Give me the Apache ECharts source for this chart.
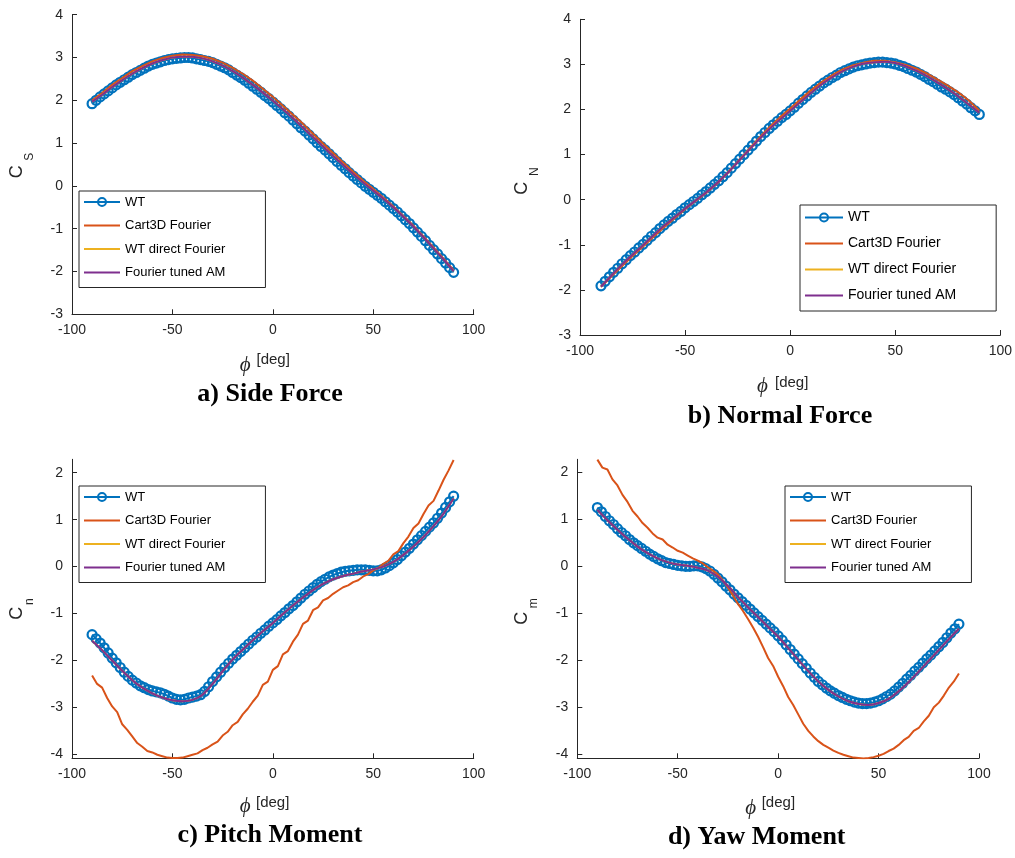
<!DOCTYPE html>
<html>
<head>
<meta charset="utf-8">
<script src="https://cdn.jsdelivr.net/npm/echarts@6.0.0/dist/echarts.min.js"></script>
<style>
  html, body { margin: 0; padding: 0; background: #ffffff; }
  #chart { width: 1015px; height: 858px; }
</style>
</head>
<body>
<div id="chart"></div>
<script>
// Roll angle for the wind-tunnel samples (every 2 deg), the Fourier curves (every 5 deg)
// and the finer Cart3D moment curves (every 2.5 deg)
const PHI_WT = [-90,-88,-86,-84,-82,-80,-78,-76,-74,-72,-70,-68,-66,-64,-62,-60,-58,-56,-54,-52,
  -50,-48,-46,-44,-42,-40,-38,-36,-34,-32,-30,-28,-26,-24,-22,-20,-18,-16,-14,-12,-10,-8,-6,-4,-2,
  0,2,4,6,8,10,12,14,16,18,20,22,24,26,28,30,32,34,36,38,40,42,44,46,48,50,52,54,56,58,60,62,64,66,
  68,70,72,74,76,78,80,82,84,86,88,90];
const PHI_FIT = [-90,-85,-80,-75,-70,-65,-60,-55,-50,-45,-40,-35,-30,-25,-20,-15,-10,-5,0,
  5,10,15,20,25,30,35,40,45,50,55,60,65,70,75,80,85,90];
const PHI_FINE = [-90,-87.5,-85,-82.5,-80,-77.5,-75,-72.5,-70,-67.5,-65,-62.5,-60,-57.5,-55,-52.5,-50,-47.5,
  -45,-42.5,-40,-37.5,-35,-32.5,-30,-27.5,-25,-22.5,-20,-17.5,-15,-12.5,-10,-7.5,-5,-2.5,0,
  2.5,5,7.5,10,12.5,15,17.5,20,22.5,25,27.5,30,32.5,35,37.5,40,42.5,45,47.5,50,52.5,55,57.5,60,
  62.5,65,67.5,70,72.5,75,77.5,80,82.5,85,87.5,90];

const X_TICKS = [-100, -50, 0, 50, 100];
const Y_TICKS_FORCE = [-3, -2, -1, 0, 1, 2, 3, 4];
const Y_TICKS_MOMENT = [-4, -3, -2, -1, 0, 1, 2];

const SERIES_NAMES = ['WT', 'Cart3D Fourier', 'WT direct Fourier', 'Fourier tuned AM'];
const PANEL_TITLES = ['a) Side Force', 'b) Normal Force', 'c) Pitch Moment', 'd) Yaw Moment'];
const Y_SUBSCRIPTS = ['S', 'N', 'n', 'm'];

// a) Side force coefficient
const WT_SIDE = [1.92,2.00,2.08,2.15,2.22,2.29,2.36,2.42,2.48,2.54,2.60,2.65,2.70,2.75,2.80,2.84,2.87,2.90,2.93,2.95,
  2.97,2.98,2.99,3.00,3.00,2.99,2.97,2.95,2.93,2.91,2.88,2.84,2.80,2.76,2.71,2.65,2.59,2.53,2.47,2.40,2.33,2.26,2.19,2.11,2.04,
  1.96,1.88,1.80,1.71,1.63,1.54,1.45,1.36,1.28,1.19,1.10,1.01,0.92,0.84,0.75,0.66,0.57,0.48,0.40,0.31,0.23,0.15,0.07,-0.01,-0.08,
  -0.15,-0.22,-0.29,-0.37,-0.45,-0.53,-0.61,-0.70,-0.79,-0.88,-0.98,-1.08,-1.18,-1.28,-1.39,-1.49,-1.59,-1.70,-1.80,-1.91,-2.02];
const CART_SIDE = [2.00,2.17,2.36,2.52,2.68,2.80,2.91,2.99,3.04,3.07,3.06,3.03,2.97,2.88,2.76,2.62,2.46,2.27,2.08,
  1.87,1.66,1.45,1.22,0.99,0.77,0.55,0.33,0.12,-0.07,-0.27,-0.48,-0.70,-0.93,-1.18,-1.44,-1.70,-1.97];
const DIRECT_SIDE = [1.97,2.13,2.31,2.47,2.62,2.75,2.86,2.94,3.00,3.02,3.02,2.98,2.91,2.81,2.68,2.53,2.36,2.18,1.99,
  1.79,1.58,1.36,1.14,0.92,0.70,0.49,0.28,0.08,-0.11,-0.30,-0.50,-0.72,-0.95,-1.20,-1.46,-1.72,-1.99];
const AM_SIDE = [1.97,2.13,2.31,2.47,2.62,2.75,2.86,2.94,3.00,3.02,3.02,2.98,2.91,2.81,2.68,2.53,2.36,2.18,1.99,
  1.79,1.58,1.36,1.14,0.92,0.70,0.49,0.28,0.08,-0.11,-0.30,-0.50,-0.72,-0.95,-1.20,-1.46,-1.72,-1.99];

// b) Normal force coefficient
const WT_NORMAL = [-1.91,-1.81,-1.71,-1.61,-1.52,-1.42,-1.33,-1.24,-1.16,-1.07,-0.99,-0.90,-0.81,-0.73,-0.64,-0.56,-0.48,-0.41,-0.33,-0.26,
  -0.18,-0.11,-0.04,0.03,0.11,0.18,0.26,0.34,0.42,0.51,0.60,0.70,0.80,0.90,1.00,1.10,1.20,1.30,1.40,1.49,1.58,1.66,1.74,1.82,1.89,
  1.97,2.05,2.14,2.22,2.30,2.38,2.45,2.52,2.59,2.65,2.71,2.76,2.82,2.86,2.90,2.94,2.97,2.99,3.01,3.03,3.04,3.05,3.05,3.04,3.03,
  3.01,2.98,2.95,2.91,2.87,2.83,2.78,2.73,2.67,2.62,2.56,2.50,2.45,2.39,2.33,2.26,2.19,2.12,2.04,1.97,1.89];
const CART_NORMAL = [-1.93,-1.70,-1.47,-1.25,-1.04,-0.82,-0.61,-0.41,-0.21,-0.03,0.15,0.35,0.58,0.84,1.10,1.36,1.60,1.82,2.02,
  2.23,2.43,2.61,2.76,2.89,2.98,3.04,3.08,3.08,3.05,2.99,2.91,2.80,2.67,2.53,2.38,2.20,1.98];
const DIRECT_NORMAL = [-1.93,-1.68,-1.44,-1.22,-1.01,-0.79,-0.58,-0.39,-0.20,-0.02,0.16,0.36,0.58,0.83,1.08,1.33,1.56,1.77,1.97,
  2.17,2.37,2.56,2.72,2.85,2.95,3.02,3.05,3.06,3.03,2.96,2.86,2.74,2.60,2.45,2.29,2.11,1.93];
const AM_NORMAL = [-1.93,-1.68,-1.44,-1.22,-1.01,-0.79,-0.58,-0.39,-0.20,-0.02,0.16,0.36,0.58,0.83,1.08,1.33,1.56,1.77,1.97,
  2.17,2.37,2.56,2.72,2.85,2.95,3.02,3.05,3.06,3.03,2.96,2.86,2.74,2.60,2.45,2.29,2.11,1.93];

// c) Pitch moment coefficient
const WT_PITCH = [-1.45,-1.54,-1.63,-1.73,-1.84,-1.95,-2.05,-2.15,-2.25,-2.34,-2.42,-2.48,-2.54,-2.58,-2.62,-2.65,-2.67,-2.69,-2.72,-2.76,
  -2.80,-2.83,-2.84,-2.83,-2.80,-2.78,-2.76,-2.73,-2.66,-2.56,-2.45,-2.35,-2.25,-2.15,-2.06,-1.97,-1.89,-1.81,-1.73,-1.65,-1.57,-1.50,-1.42,-1.35,-1.27,
  -1.20,-1.13,-1.05,-0.98,-0.90,-0.83,-0.75,-0.67,-0.59,-0.52,-0.45,-0.38,-0.32,-0.27,-0.22,-0.18,-0.15,-0.12,-0.10,-0.09,-0.08,-0.07,-0.07,-0.07,-0.08,
  -0.09,-0.09,-0.07,-0.03,0.02,0.08,0.15,0.23,0.31,0.39,0.48,0.57,0.66,0.75,0.84,0.93,1.03,1.14,1.26,1.38,1.50];
const CART_PITCH = [-2.32,-2.50,-2.58,-2.80,-2.98,-3.10,-3.36,-3.48,-3.62,-3.76,-3.84,-3.93,-3.96,-4.01,-4.04,-4.07,-4.08,-4.08,
  -4.07,-4.04,-4.01,-3.98,-3.91,-3.86,-3.79,-3.73,-3.60,-3.52,-3.38,-3.31,-3.15,-3.03,-2.88,-2.75,-2.52,-2.45,-2.20,
  -2.12,-1.87,-1.80,-1.60,-1.45,-1.22,-1.15,-0.93,-0.87,-0.72,-0.67,-0.58,-0.51,-0.44,-0.40,-0.33,-0.29,-0.21,-0.16,-0.08,-0.03,0.06,0.12,0.26,
  0.33,0.50,0.64,0.82,0.92,1.12,1.30,1.40,1.62,1.85,2.05,2.27];
const DIRECT_PITCH = [-1.58,-1.78,-2.00,-2.22,-2.42,-2.58,-2.70,-2.79,-2.85,-2.87,-2.84,-2.73,-2.50,-2.23,-1.98,-1.77,-1.57,-1.38,-1.20,
  -1.01,-0.83,-0.66,-0.50,-0.37,-0.27,-0.20,-0.15,-0.10,-0.06,0.00,0.10,0.25,0.43,0.63,0.86,1.13,1.45];
const AM_PITCH = [-1.58,-1.78,-2.00,-2.22,-2.42,-2.58,-2.70,-2.79,-2.85,-2.87,-2.84,-2.73,-2.50,-2.23,-1.98,-1.77,-1.57,-1.38,-1.20,
  -1.01,-0.83,-0.66,-0.50,-0.37,-0.27,-0.20,-0.15,-0.10,-0.06,0.00,0.10,0.25,0.43,0.63,0.86,1.13,1.45];

// d) Yaw moment coefficient
const WT_YAW = [1.25,1.16,1.06,0.97,0.89,0.80,0.72,0.65,0.57,0.50,0.44,0.38,0.32,0.26,0.21,0.16,0.12,0.08,0.06,0.04,
  0.02,0.01,0.00,0.00,0.01,0.01,-0.01,-0.05,-0.10,-0.17,-0.25,-0.33,-0.42,-0.50,-0.59,-0.67,-0.75,-0.83,-0.91,-0.99,-1.07,-1.15,-1.23,-1.31,-1.39,
  -1.48,-1.57,-1.67,-1.77,-1.87,-1.97,-2.07,-2.17,-2.27,-2.36,-2.45,-2.52,-2.59,-2.65,-2.70,-2.75,-2.79,-2.83,-2.86,-2.89,-2.91,-2.92,-2.92,-2.91,-2.89,
  -2.86,-2.82,-2.77,-2.72,-2.65,-2.57,-2.49,-2.40,-2.32,-2.23,-2.15,-2.06,-1.97,-1.89,-1.80,-1.71,-1.62,-1.52,-1.42,-1.33,-1.23];
const CART_YAW = [2.27,2.10,2.06,1.85,1.72,1.52,1.37,1.18,1.06,0.92,0.82,0.70,0.61,0.57,0.46,0.40,0.33,0.29,
  0.23,0.17,0.12,0.06,-0.02,-0.09,-0.17,-0.30,-0.45,-0.62,-0.80,-0.95,-1.12,-1.30,-1.50,-1.72,-1.95,-2.12,-2.35,
  -2.55,-2.78,-2.95,-3.15,-3.35,-3.50,-3.62,-3.72,-3.80,-3.86,-3.92,-3.97,-4.01,-4.04,-4.07,-4.08,-4.09,-4.08,-4.06,-4.03,-3.99,-3.93,-3.88,-3.80,
  -3.70,-3.63,-3.50,-3.44,-3.30,-3.18,-3.00,-2.90,-2.75,-2.58,-2.45,-2.28];
const DIRECT_YAW = [1.20,0.98,0.78,0.59,0.42,0.28,0.17,0.09,0.04,0.01,-0.03,-0.09,-0.22,-0.42,-0.65,-0.87,-1.08,-1.29,-1.50,
  -1.74,-1.99,-2.23,-2.45,-2.63,-2.77,-2.87,-2.93,-2.95,-2.91,-2.82,-2.66,-2.46,-2.24,-2.01,-1.78,-1.55,-1.33];
const AM_YAW = [1.20,0.98,0.78,0.59,0.42,0.28,0.17,0.09,0.04,0.01,-0.03,-0.09,-0.22,-0.42,-0.65,-0.87,-1.08,-1.29,-1.50,
  -1.74,-1.99,-2.23,-2.45,-2.63,-2.77,-2.87,-2.93,-2.95,-2.91,-2.82,-2.66,-2.46,-2.24,-2.01,-1.78,-1.55,-1.33];

const PANEL_DATA = [
  { wt: WT_SIDE,   cart: CART_SIDE,   cartPhi: PHI_FIT,  direct: DIRECT_SIDE,   am: AM_SIDE,   yTicks: Y_TICKS_FORCE },
  { wt: WT_NORMAL, cart: CART_NORMAL, cartPhi: PHI_FIT,  direct: DIRECT_NORMAL, am: AM_NORMAL, yTicks: Y_TICKS_FORCE },
  { wt: WT_PITCH,  cart: CART_PITCH,  cartPhi: PHI_FINE, direct: DIRECT_PITCH,  am: AM_PITCH,  yTicks: Y_TICKS_MOMENT },
  { wt: WT_YAW,    cart: CART_YAW,    cartPhi: PHI_FINE, direct: DIRECT_YAW,    am: AM_YAW,    yTicks: Y_TICKS_MOMENT }
];

// ---- layout (pixels) ----
const LAYOUT = [
  { grid: { left: 72, top: 14.7, width: 401.7, height: 299.6 }, yMin: -3, yMax: 4,
    legend: { left: 79, top: 191, fs: 13, iw: 36, gap: 9.5, pad: [4, 40, 8, 4] },
    cLab: [16.7, 171.7], sub: [29.3, 156.7], phi: [245.3, 365], deg: [256.5, 359.5], title: [270, 394] },
  { grid: { left: 580, top: 19.3, width: 424, height: 315.7 }, yMin: -3, yMax: 4,
    legend: { left: 800, top: 205, fs: 14, iw: 38, gap: 11, pad: [5, 40, 8, 4] },
    cLab: [521.7, 188.3], sub: [535, 171.7], phi: [762.5, 386.7], deg: [775, 382.8], title: [780, 416.7] },
  { grid: { left: 72, top: 459.3, width: 401.7, height: 299 }, yMin: -4.085, yMax: 2.286,
    legend: { left: 79, top: 486, fs: 13, iw: 36, gap: 9.5, pad: [4, 40, 8, 4] },
    cLab: [16.7, 613.3], sub: [29.3, 601.7], phi: [245.3, 806.7], deg: [256, 802.8], title: [270, 835] },
  { grid: { left: 577.3, top: 459.3, width: 401.7, height: 299 }, yMin: -4.085, yMax: 2.277,
    legend: { left: 785, top: 486, fs: 13, iw: 36, gap: 9.5, pad: [4, 40, 8, 4] },
    cLab: [521.7, 618.3], sub: [533.3, 603.3], phi: [750.8, 808.3], deg: [761.7, 802.8], title: [756.7, 837.3] }
];

const COLORS = { wt: '#0072BD', cart: '#D95319', direct: '#EDB120', am: '#7E2F8E', axis: '#262626' };
const SANS = '"Liberation Sans", Arial, Helvetica, sans-serif';
const SERIF = '"Liberation Serif", "Times New Roman", "DejaVu Serif", serif';

function pairs(xs, ys) { return xs.map((x, i) => [x, ys[i]]); }

// legend entries: the WT entry keeps its circle marker, the fitted curves show a bare line
const LEGEND_ITEMS = SERIES_NAMES.map((name, k) =>
  k === 0 ? { name: name } : { name: name, itemStyle: { opacity: 0 } });

const grids = [], xAxes = [], yAxes = [], series = [], legends = [], texts = [];

LAYOUT.forEach((L, i) => {
  const D = PANEL_DATA[i];
  grids.push(Object.assign({ containLabel: false }, L.grid));

  xAxes.push({
    type: 'value', gridIndex: i, min: -100, max: 100,
    axisLine: { show: true, onZero: false, lineStyle: { color: COLORS.axis, width: 1 } },
    axisTick: { show: true, inside: true, length: 5, customValues: X_TICKS, lineStyle: { color: COLORS.axis } },
    axisLabel: { customValues: X_TICKS, color: COLORS.axis, fontSize: 14, fontFamily: SANS, margin: 9 },
    splitLine: { show: false }
  });
  yAxes.push({
    type: 'value', gridIndex: i, min: L.yMin, max: L.yMax,
    axisLine: { show: true, onZero: false, lineStyle: { color: COLORS.axis, width: 1 } },
    axisTick: { show: true, inside: true, length: 5, customValues: D.yTicks, lineStyle: { color: COLORS.axis } },
    axisLabel: { customValues: D.yTicks, color: COLORS.axis, fontSize: 14, fontFamily: SANS, margin: 9 },
    splitLine: { show: false }
  });

  series.push({
    name: SERIES_NAMES[0], type: 'line', xAxisIndex: i, yAxisIndex: i,
    data: pairs(PHI_WT, D.wt),
    symbol: 'circle', symbolSize: 9, showSymbol: true, showAllSymbol: true,
    lineStyle: { color: COLORS.wt, width: 2 },
    itemStyle: { color: 'rgba(0,0,0,0)', borderColor: COLORS.wt, borderWidth: 2.2 },
    emphasis: { disabled: true }, z: 2
  });
  series.push({
    name: SERIES_NAMES[1], type: 'line', xAxisIndex: i, yAxisIndex: i,
    data: pairs(D.cartPhi, D.cart), symbol: 'none',
    lineStyle: { color: COLORS.cart, width: 2 }, itemStyle: { color: COLORS.cart },
    emphasis: { disabled: true }, z: 3
  });
  series.push({
    name: SERIES_NAMES[2], type: 'line', xAxisIndex: i, yAxisIndex: i,
    data: pairs(PHI_FIT, D.direct), symbol: 'none', smooth: 0.3,
    lineStyle: { color: COLORS.direct, width: 2 }, itemStyle: { color: COLORS.direct },
    emphasis: { disabled: true }, z: 4
  });
  series.push({
    name: SERIES_NAMES[3], type: 'line', xAxisIndex: i, yAxisIndex: i,
    data: pairs(PHI_FIT, D.am), symbol: 'none', smooth: 0.3,
    lineStyle: { color: COLORS.am, width: 2 }, itemStyle: { color: COLORS.am },
    emphasis: { disabled: true }, z: 5
  });

  const lg = L.legend;
  legends.push({
    data: LEGEND_ITEMS, orient: 'vertical', left: lg.left, top: lg.top,
    padding: lg.pad, itemGap: lg.gap, itemWidth: lg.iw, itemHeight: 10,
    backgroundColor: '#ffffff', borderColor: COLORS.axis, borderWidth: 1, borderRadius: 0,
    selectedMode: false,
    textStyle: { color: '#000000', fontSize: lg.fs, fontFamily: SANS, lineHeight: lg.fs + 1 }
  });

  // y-axis name: C with a subscript, reading upwards
  texts.push({ type: 'text', x: L.cLab[0], y: L.cLab[1], rotation: Math.PI / 2,
    style: { text: 'C', font: '18px ' + SANS, fill: COLORS.axis, align: 'center', verticalAlign: 'middle' } });
  texts.push({ type: 'text', x: L.sub[0], y: L.sub[1], rotation: Math.PI / 2,
    style: { text: Y_SUBSCRIPTS[i], font: '12px ' + SANS, fill: COLORS.axis, align: 'center', verticalAlign: 'middle' } });
  // x-axis name
  texts.push({ type: 'text', x: L.phi[0], y: L.phi[1],
    style: { text: 'ϕ', font: 'italic 21px ' + SERIF, fill: COLORS.axis, align: 'center', verticalAlign: 'middle' } });
  texts.push({ type: 'text', x: L.deg[0], y: L.deg[1],
    style: { text: '[deg]', font: '15px ' + SANS, fill: COLORS.axis, align: 'left', verticalAlign: 'middle' } });
  // panel caption
  texts.push({ type: 'text', x: L.title[0], y: L.title[1],
    style: { text: PANEL_TITLES[i], font: 'bold 26px ' + SERIF, fill: '#000000', align: 'center', verticalAlign: 'middle' } });
});

const chart = echarts.init(document.getElementById('chart'), null, { renderer: 'canvas' });
chart.setOption({
  animation: false,
  backgroundColor: '#ffffff',
  grid: grids,
  xAxis: xAxes,
  yAxis: yAxes,
  legend: legends,
  series: series,
  graphic: { elements: texts }
});
</script>
</body>
</html>
